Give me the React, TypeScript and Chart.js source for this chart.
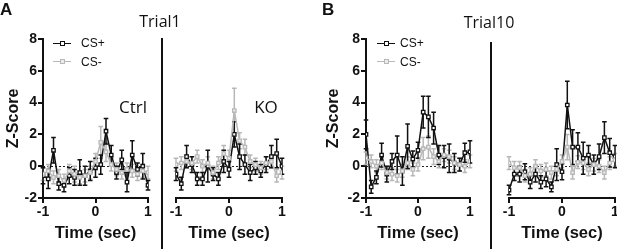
import React, { useEffect, useRef } from "react";
import { Chart, registerables } from "chart.js";

Chart.register(...registerables);

// ---- data ----
const timeSec = [-1, -0.9, -0.8, -0.7, -0.6, -0.5, -0.4, -0.3, -0.2, -0.1, 0, 0.1, 0.2, 0.3, 0.4, 0.5, 0.6, 0.7, 0.8, 0.9, 1];

const t1CtrlPlus = [-0.6, -0.8, 1.0, -1.1, -1.2, -0.6, -0.7, -0.4, -0.6, -0.3, -0.1, 0.1, 2.2, 0.7, -0.4, 0.4, -1.0, 0.7, -0.2, 0.0, -1.2];
const t1CtrlPlusErr = [0.5, 0.6, 0.8, 0.4, 0.4, 0.5, 0.5, 0.8, 0.6, 0.6, 0.6, 0.6, 0.8, 0.6, 0.4, 0.6, 0.6, 0.9, 0.4, 0.8, 0.3];
const t1CtrlMinus = [-0.5, -0.3, -0.7, -0.6, -0.9, -0.3, -0.5, -0.7, -0.6, -0.4, 0.3, 1.5, 0.9, 0.1, -0.2, -0.4, -0.2, -0.3, -0.5, -0.3, -0.4];
const t1CtrlMinusErr = [0.4, 0.4, 0.4, 0.4, 0.4, 0.4, 0.5, 0.4, 0.4, 0.4, 0.5, 1.0, 0.6, 0.4, 0.4, 0.4, 0.4, 0.4, 0.4, 0.4, 0.4];

const t1KoPlus = [-0.5, -1.1, 0.6, 0.1, -0.8, -0.8, 0.0, -0.5, -0.8, 0.3, -0.2, 2.0, 0.6, 0.1, -0.4, -0.1, -0.3, 0.1, 0.6, 0.8, 0.0];
const t1KoPlusErr = [0.4, 0.4, 0.7, 0.5, 0.4, 0.4, 1.0, 0.4, 0.4, 0.7, 0.5, 0.8, 0.8, 0.6, 0.5, 0.4, 0.4, 0.5, 0.7, 0.9, 0.5];
const t1KoMinus = [0.1, 0.2, 0.3, 0.2, 0.6, 0.0, 0.2, -0.4, 0.2, 0.8, 0.5, 3.5, 1.6, 1.2, 0.3, 0.1, -0.1, 0.2, 0.3, -0.6, -0.4];
const t1KoMinusErr = [0.4, 0.4, 0.4, 0.4, 0.4, 0.4, 0.4, 0.4, 0.4, 0.5, 0.5, 1.4, 0.5, 0.5, 0.4, 0.4, 0.4, 0.4, 0.4, 0.4, 0.4];

const t10CtrlPlus = [2.0, -1.3, -0.7, 0.7, -0.5, 0.3, 0.7, -0.3, 1.25, 0.45, 1.0, 3.4, 3.1, 2.4, 0.7, 0.6, 0.5, 0.2, 0.1, 0.85, 0.9];
const t10CtrlPlusErr = [0.9, 0.4, 0.4, 0.75, 0.5, 0.5, 1.2, 0.9, 1.4, 0.5, 0.5, 1.0, 1.3, 1.0, 0.6, 0.7, 0.9, 0.6, 0.4, 0.6, 0.7];
const t10CtrlMinus = [0.5, 0.3, 0.0, 0.2, -0.4, -0.5, -0.6, -0.3, 0.2, -0.2, 0.1, 1.1, 1.2, 0.6, 0.3, 0.7, 0.6, 0.2, 0.1, 0.0, 0.3];
const t10CtrlMinusErr = [0.4, 0.4, 0.4, 0.4, 0.4, 0.4, 0.4, 0.4, 0.4, 0.4, 0.4, 0.7, 0.7, 0.5, 0.4, 0.4, 0.4, 0.4, 0.4, 0.4, 0.4];

const t10KoPlus = [-1.5, -0.5, -0.5, -0.35, -1.0, -0.5, -1.0, -0.8, -1.3, 0.1, -0.35, 3.85, 1.2, 1.2, 0.5, 0.7, 0.1, 0.6, 1.8, 0.85, 0.6];
const t10KoPlusErr = [0.3, 0.4, 0.5, 0.5, 0.4, 0.5, 0.4, 0.5, 0.3, 1.0, 0.5, 1.5, 1.1, 0.9, 1.0, 0.6, 0.6, 0.8, 1.0, 0.9, 0.7];
const t10KoMinus = [0.2, -0.1, -0.1, -0.6, -0.5, 0.0, -0.3, -0.2, -0.4, -0.2, 0.3, 1.2, -0.4, 0.25, 0.2, -0.2, 0.1, 0.0, -0.4, 0.2, 0.4];
const t10KoMinusErr = [0.4, 0.4, 0.4, 0.4, 0.4, 0.4, 0.4, 0.4, 0.4, 0.4, 0.4, 0.8, 0.4, 0.4, 0.4, 0.4, 0.4, 0.4, 0.4, 0.4, 0.4];

const yTickMin = -2;
const yTickMax = 8;
const seriesLabels = ["CS+", "CS-"];

const BLACK = "#111111";
const GREY = "#b8b8b8";
const SANS = "'Liberation Sans', Arial, Helvetica, sans-serif";
const HUMAN = "'Open Sans', 'Noto Sans', sans-serif";

const errorBarPlugin = {
  id: "errorBars",
  beforeDatasetsDraw(chart: any) {
    const ctx = chart.ctx;
    const xs = chart.scales.x;
    const ys = chart.scales.y;
    chart.data.datasets.forEach((ds: any) => {
      const errs: number[] = ds.errorBars;
      if (!errs) return;
      ctx.save();
      ctx.strokeStyle = ds.borderColor;
      ctx.lineWidth = 1.5;
      ds.data.forEach((p: any, j: number) => {
        const x = xs.getPixelForValue(p.x);
        const yt = ys.getPixelForValue(p.y + errs[j]);
        const yb = ys.getPixelForValue(p.y - errs[j]);
        ctx.beginPath();
        ctx.moveTo(x, yt);
        ctx.lineTo(x, yb);
        ctx.moveTo(x - 2.3, yt);
        ctx.lineTo(x + 2.3, yt);
        ctx.moveTo(x - 2.3, yb);
        ctx.lineTo(x + 2.3, yb);
        ctx.stroke();
      });
      ctx.restore();
    });
  },
};

const zeroLinePlugin = {
  id: "zeroLine",
  beforeDatasetsDraw(chart: any) {
    const ctx = chart.ctx;
    const ys = chart.scales.y;
    const { left, right } = chart.chartArea;
    const y0 = Math.round(ys.getPixelForValue(0)) + 0.5;
    ctx.save();
    ctx.strokeStyle = "#222";
    ctx.lineWidth = 1;
    ctx.setLineDash([2, 2]);
    ctx.beginPath();
    ctx.moveTo(left, y0);
    ctx.lineTo(right, y0);
    ctx.stroke();
    ctx.restore();
  },
};

type PanelProps = {
  left: number;
  width: number;
  showY: boolean;
  yWidth: number;
  padLeft: number;
  padRight: number;
  plus: number[];
  plusErr: number[];
  minus: number[];
  minusErr: number[];
};

function Panel(props: PanelProps) {
  const ref = useRef<HTMLCanvasElement | null>(null);
  useEffect(() => {
    if (!ref.current) return;
    const pts = (arr: number[]) => timeSec.map((x, i) => ({ x, y: arr[i] }));
    const tickFont = { family: SANS, size: 14, weight: "bold" as const };
    const chart = new Chart(ref.current, {
      type: "line",
      data: {
        datasets: [
          {
            label: seriesLabels[1],
            data: pts(props.minus),
            borderColor: GREY,
            backgroundColor: "#ececec",
            borderWidth: 1.5,
            pointStyle: "rect",
            pointRadius: 2.4,
            pointBorderWidth: 1.3,
            tension: 0,
            errorBars: props.minusErr,
          } as any,
          {
            label: seriesLabels[0],
            data: pts(props.plus),
            borderColor: BLACK,
            backgroundColor: "#ffffff",
            borderWidth: 1.5,
            pointStyle: "rect",
            pointRadius: 2.4,
            pointBorderWidth: 1.3,
            tension: 0,
            errorBars: props.plusErr,
          } as any,
        ],
      },
      options: {
        animation: false,
        responsive: false,
        maintainAspectRatio: false,
        devicePixelRatio: 1,
        layout: { padding: { top: 39, left: props.padLeft, right: props.padRight, bottom: 0 } },
        plugins: { legend: { display: false }, tooltip: { enabled: false } },
        scales: {
          x: {
            type: "linear",
            min: -1,
            max: 1,
            ticks: { stepSize: 1, font: tickFont, color: "#111", padding: 1, maxRotation: 0 },
            grid: { drawOnChartArea: false, drawTicks: true, tickLength: 5, color: "#111", lineWidth: 2 },
            border: { display: true, color: "#111", width: 2 },
            title: {
              display: true,
              text: "Time (sec)",
              color: "#111",
              font: { family: SANS, size: 16.5, weight: "bold" },
              padding: { top: 0, bottom: 6 },
            },
            afterFit: (s: any) => {
              s.height = 51;
            },
          },
          y: {
            display: props.showY,
            min: yTickMin,
            max: yTickMax,
            ticks: { stepSize: 2, font: tickFont, color: "#111", padding: 1 },
            grid: { drawOnChartArea: false, drawTicks: true, tickLength: 5, color: "#111", lineWidth: 2 },
            border: { display: true, color: "#111", width: 2 },
            title: {
              display: true,
              text: "Z-Score",
              color: "#111",
              font: { family: SANS, size: 16, weight: "bold" },
              padding: { top: 4, bottom: 0 },
            },
            afterFit: (s: any) => {
              s.width = props.yWidth;
            },
          },
        },
      } as any,
      plugins: [zeroLinePlugin, errorBarPlugin],
    });
    return () => chart.destroy();
  }, []);
  return (
    <canvas
      ref={ref}
      width={props.width}
      height={249}
      style={{ position: "absolute", left: props.left, top: 0, width: props.width, height: 249 }}
    />
  );
}

function Legend({ left, textLeft }: { left: number; textLeft: number }) {
  const row = (y: number, color: string, fill: string, label: string) => (
    <>
      <div style={{ position: "absolute", left, top: y - 0.5, width: 18, height: 1.4, background: color }} />
      <div
        style={{
          position: "absolute",
          left: left + 6.5,
          top: y - 2.5,
          width: 3,
          height: 3,
          border: `1.2px solid ${color}`,
          background: fill,
        }}
      />
      <div
        style={{
          position: "absolute",
          left: textLeft,
          top: y - 8,
          fontFamily: SANS,
          fontSize: 12,
          lineHeight: "16px",
          color: "#111",
          whiteSpace: "nowrap",
        }}
      >
        {label}
      </div>
    </>
  );
  return (
    <>
      {row(43, BLACK, "#fff", seriesLabels[0])}
      {row(61.5, GREY, "#ececec", seriesLabels[1])}
    </>
  );
}

function Label({ text, x, y, size, bold, family, center }: any) {
  return (
    <div
      style={{
        position: "absolute",
        left: x,
        top: y,
        transform: center ? "translate(-50%, -50%)" : undefined,
        fontFamily: family,
        fontSize: size,
        fontWeight: bold ? "bold" : "normal",
        lineHeight: 1,
        color: "#111",
        whiteSpace: "nowrap",
      }}
    >
      {text}
    </div>
  );
}

export default function App() {
  return (
    <div
      style={{
        position: "absolute",
        left: 0,
        top: 0,
        width: 617,
        height: 249,
        overflow: "hidden",
        background: "#fff",
      }}
    >
      <Panel left={0} width={160} showY={true} yWidth={43} padLeft={0} padRight={12}
        plus={t1CtrlPlus} plusErr={t1CtrlPlusErr} minus={t1CtrlMinus} minusErr={t1CtrlMinusErr} />
      <Panel left={164} width={128} showY={false} yWidth={0} padLeft={12} padRight={10}
        plus={t1KoPlus} plusErr={t1KoPlusErr} minus={t1KoMinus} minusErr={t1KoMinusErr} />
      <Panel left={320} width={165} showY={true} yWidth={46} padLeft={0} padRight={15}
        plus={t10CtrlPlus} plusErr={t10CtrlPlusErr} minus={t10CtrlMinus} minusErr={t10CtrlMinusErr} />
      <Panel left={494} width={135} showY={false} yWidth={0} padLeft={15} padRight={14}
        plus={t10KoPlus} plusErr={t10KoPlusErr} minus={t10KoMinus} minusErr={t10KoMinusErr} />

      <div style={{ position: "absolute", left: 161, top: 38, width: 2, height: 211, background: "#111" }} />
      <div style={{ position: "absolute", left: 490, top: 42, width: 2, height: 207, background: "#111" }} />

      <Legend left={53} textLeft={81} />
      <Legend left={377} textLeft={400} />

      <Label text="A" x={0} y={1} size={17} bold family={SANS} />
      <Label text="B" x={322} y={1} size={17} bold family={SANS} />
      <Label text="Trial1" x={160} y={21} size={16} family={HUMAN} center />
      <Label text="Trial10" x={489} y={22} size={16} family={HUMAN} center />
      <Label text="Ctrl" x={133} y={106} size={17} family={HUMAN} center />
      <Label text="KO" x={266} y={106} size={17} family={HUMAN} center />
    </div>
  );
}
